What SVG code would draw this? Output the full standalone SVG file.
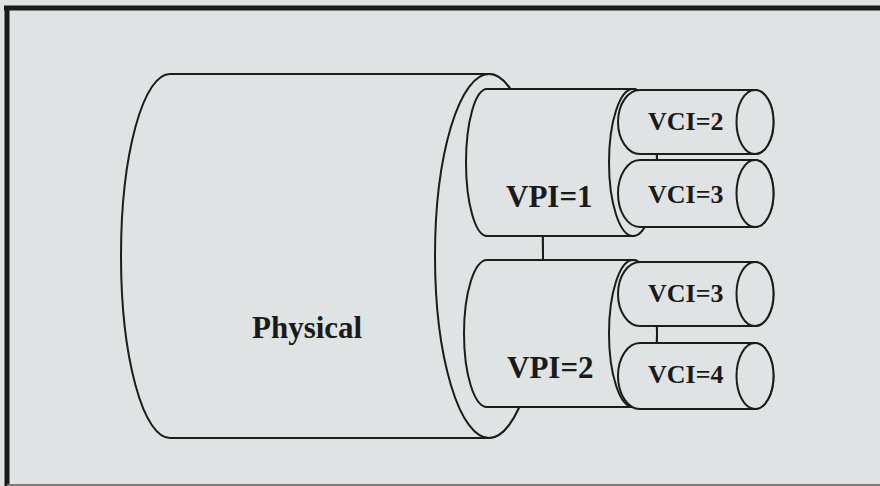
<svg xmlns="http://www.w3.org/2000/svg" width="880" height="486" viewBox="0 0 880 486">
<style>
.bg{fill:#dfe3e4}
.cyl{fill:#dfe3e4;stroke:#1c1c1c;stroke-width:2;stroke-linejoin:round}
.lbl{font-family:"Liberation Serif","Times New Roman",serif;font-weight:bold;fill:#1a1a1a}
.big{font-size:31px}
.small{font-size:26px}
</style>
<rect class="bg" x="0" y="0" width="880" height="486"/>
<g id="frame">
<line x1="7" y1="8" x2="7" y2="486" stroke="#1a1a1a" stroke-width="5"/>
<line x1="4" y1="8" x2="880" y2="8" stroke="#1a1a1a" stroke-width="5"/>
<line x1="7" y1="485" x2="880" y2="485" stroke="#7a7a7a" stroke-width="2"/>
</g>
<g id="physical">
<path class="cyl" d="M170,74 H489 A54,182 0 0 1 489,438 H170 A49,182 0 0 1 170,74 Z"/>
<ellipse class="cyl" cx="489" cy="256" rx="54" ry="182"/>
<text class="lbl big" x="252" y="338">Physical</text>
</g>
<g id="vpi1">
<path class="cyl" d="M487,89 H633 A24,73.5 0 0 1 633,236 H487 A21,73.5 0 0 1 487,89 Z"/>
<ellipse class="cyl" cx="633" cy="162.5" rx="24" ry="73.5"/>
<text class="lbl big" x="506" y="207">VPI=1</text>
</g>
<g id="vpi2">
<path class="cyl" d="M487,260 H633 A24,73.5 0 0 1 633,407 H487 A23,73.5 0 0 1 487,260 Z"/>
<ellipse class="cyl" cx="633" cy="333.5" rx="24" ry="73.5"/>
<text class="lbl big" x="507" y="378">VPI=2</text>
</g>
<g id="vci2-top">
<path class="cyl" d="M640,90 H755 A18.5,32 0 0 1 755,154 H640 A22,32 0 0 1 640,90 Z"/>
<ellipse class="cyl" cx="755" cy="122" rx="18.5" ry="32"/>
<text class="lbl small" x="648" y="130">VCI=2</text>
</g>
<g id="vci3-top">
<path class="cyl" d="M640,160 H755 A18.5,33.5 0 0 1 755,227 H640 A22,33.5 0 0 1 640,160 Z"/>
<ellipse class="cyl" cx="755" cy="193.5" rx="18.5" ry="33.5"/>
<text class="lbl small" x="648" y="203">VCI=3</text>
</g>
<g id="vci3-bottom">
<path class="cyl" d="M640,262 H755 A18.5,32 0 0 1 755,326 H640 A22,32 0 0 1 640,262 Z"/>
<ellipse class="cyl" cx="755" cy="294" rx="18.5" ry="32"/>
<text class="lbl small" x="648" y="302">VCI=3</text>
</g>
<g id="vci4">
<path class="cyl" d="M640,343 H755 A18.5,33 0 0 1 755,409 H640 A22,33 0 0 1 640,343 Z"/>
<ellipse class="cyl" cx="755" cy="376" rx="18.5" ry="33"/>
<text class="lbl small" x="648" y="383">VCI=4</text>
</g>
<g id="connectors"></g>
</svg>
